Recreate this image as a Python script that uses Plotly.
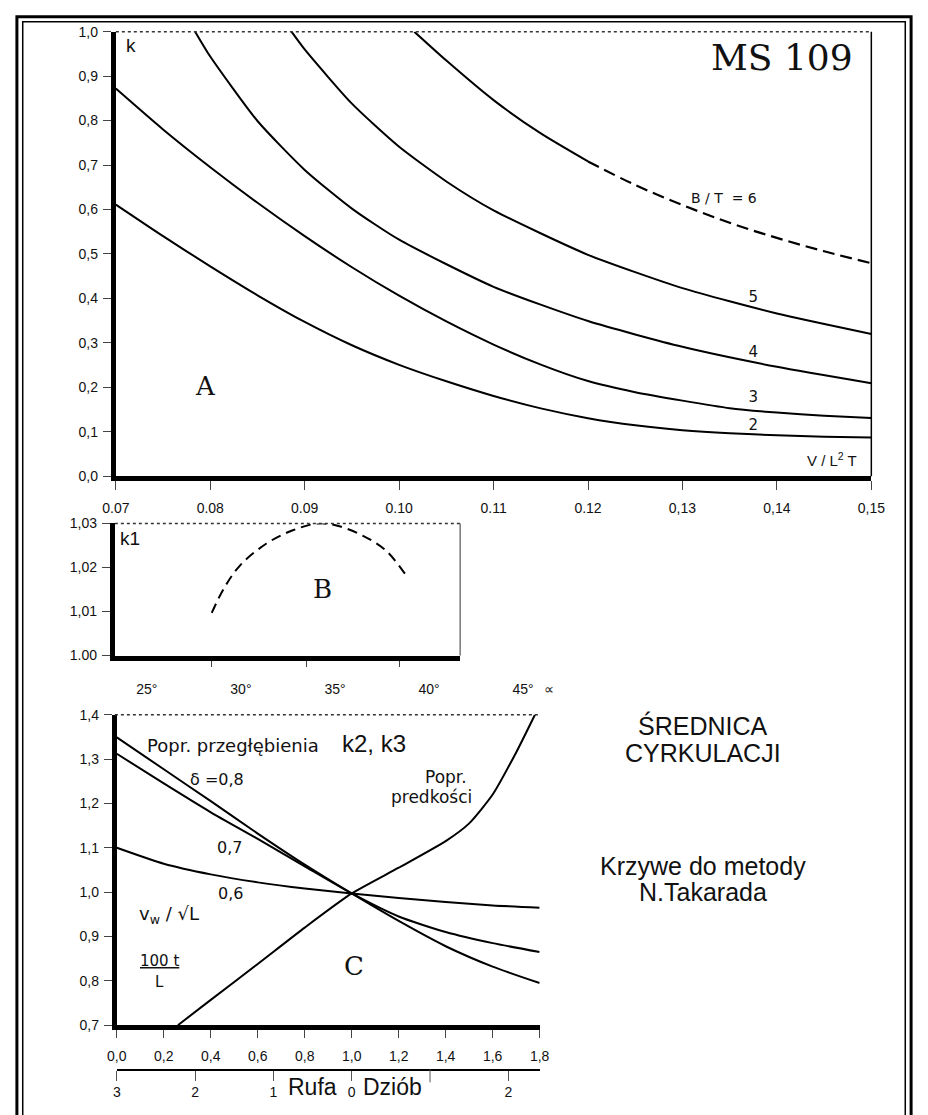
import plotly.graph_objects as go

W, H = 928, 1115

# ---------------- Panel A data ----------------
A_XTICKS = [0.07, 0.08, 0.09, 0.10, 0.11, 0.12, 0.13, 0.14, 0.15]
A_XTICKTEXT = ["0.07", "0.08", "0.09", "0.10", "0.11", "0.12", "0,13", "0,14", "0,15"]
A_YTICKS = [0.0, 0.1, 0.2, 0.3, 0.4, 0.5, 0.6, 0.7, 0.8, 0.9, 1.0]
A_YTICKTEXT = ["0,0", "0,1", "0,2", "0,3", "0,4", "0,5", "0,6", "0,7", "0,8", "0,9", "1,0"]

V_GRID = [0.070, 0.075, 0.080, 0.085, 0.090, 0.095, 0.100, 0.105, 0.110,
          0.115, 0.120, 0.125, 0.130, 0.135, 0.140, 0.145, 0.150]
BT2_K = [0.611, 0.540, 0.472, 0.407, 0.347, 0.2945, 0.2505, 0.2135, 0.1805,
         0.1525, 0.1305, 0.1145, 0.1035, 0.0965, 0.092, 0.089, 0.087]
BT3_K = [0.872, 0.780, 0.695, 0.615, 0.540, 0.470, 0.406, 0.348, 0.296,
         0.251, 0.214, 0.189, 0.170, 0.153, 0.143, 0.136, 0.131]
BT4_V = [0.0784, 0.080, 0.085, 0.090, 0.095, 0.100, 0.110, 0.120, 0.130, 0.140, 0.150]
BT4_K = [1.000, 0.944, 0.799, 0.689, 0.602, 0.532, 0.426, 0.349, 0.291, 0.246, 0.209]
BT5_V = [0.0886, 0.090, 0.095, 0.100, 0.105, 0.110, 0.120, 0.130, 0.140, 0.150]
BT5_K = [1.000, 0.960, 0.838, 0.741, 0.663, 0.598, 0.498, 0.423, 0.366, 0.320]
BT6_V_SOLID = [0.1016, 0.105, 0.110, 0.115, 0.120]
BT6_K_SOLID = [1.000, 0.935, 0.846, 0.771, 0.708]
BT6_V_DASH = [0.120, 0.125, 0.130, 0.135, 0.140, 0.145, 0.150]
BT6_K_DASH = [0.708, 0.655, 0.610, 0.570, 0.536, 0.506, 0.479]
BT_LABELS = ["2", "3", "4", "5"]
BT_LABEL_V = [0.1375, 0.1375, 0.1375, 0.1375]
BT_LABEL_K = [0.112, 0.175, 0.277, 0.400]

# ---------------- Panel B data ----------------
B_DEG = [28.45, 29.1, 29.96, 31.34, 32.72, 34.09, 35.12, 36.49, 37.7, 38.73]
B_K1 = [1.0097, 1.0153, 1.0205, 1.0254, 1.0284, 1.0300, 1.0295, 1.0272, 1.0239, 1.0185]
B_YTICKS = [1.00, 1.01, 1.02, 1.03]
B_YTICKTEXT = ["1.00", "1,01", "1,02", "1,03"]
B_XMARKS = [28.45, 33.5, 38.45]
ALPHA_TICKS = [25, 30, 35, 40, 45, 46.4]
ALPHA_TICKTEXT = ["25°", "30°", "35°", "40°", "45°", "∝"]

# ---------------- Panel C data ----------------
C_X = [0.0, 0.2, 0.4, 0.6, 0.8, 1.0, 1.2, 1.4, 1.6, 1.8]
C_XTICKTEXT = ["0,0", "0,2", "0,4", "0,6", "0,8", "1,0", "1,2", "1,4", "1,6", "1,8"]
C_YTICKS = [0.7, 0.8, 0.9, 1.0, 1.1, 1.2, 1.3, 1.4]
C_YTICKTEXT = ["0,7", "0,8", "0,9", "1,0", "1,1", "1,2", "1,3", "1,4"]
D08 = [1.349, 1.277, 1.205, 1.132, 1.062, 0.997, 0.935, 0.878, 0.832, 0.795]
D07 = [1.312, 1.245, 1.180, 1.120, 1.058, 0.997, 0.945, 0.910, 0.885, 0.865]
D06 = [1.100, 1.064, 1.040, 1.022, 1.008, 0.997, 0.987, 0.978, 0.970, 0.965]
VEL_X = [0.26, 0.4, 0.6, 0.8, 1.0, 1.2, 1.4, 1.5, 1.6, 1.7, 1.78]
VEL_Y = [0.70, 0.757, 0.838, 0.92, 0.997, 1.055, 1.115, 1.155, 1.22, 1.315, 1.40]
TRIM_TICKS = [-3, -2, -1, 0, 2]
TRIM_TICKTEXT = ["3", "2", "1", "0", "2"]


def fx(p):
    return p / W


def fy(p):
    return 1 - p / H


SANS = "Liberation Sans"
WIDE = "DejaVu Sans"
SERIF = "DejaVu Serif"
TICKFONT = dict(family=SANS, size=14, color="#111")

fig = go.Figure()

line = dict(color="black", width=2, shape="spline", smoothing=0.6)
for v, k in [(V_GRID, BT2_K), (V_GRID, BT3_K), (BT4_V, BT4_K), (BT5_V, BT5_K), (BT6_V_SOLID, BT6_K_SOLID)]:
    fig.add_trace(go.Scatter(x=v, y=k, mode="lines", line=line, xaxis="x", yaxis="y",
                             hoverinfo="skip", showlegend=False))
fig.add_trace(go.Scatter(x=BT6_V_DASH, y=BT6_K_DASH, mode="lines",
                         line=dict(color="black", width=2.2, dash="12px,6px", shape="spline"),
                         xaxis="x", yaxis="y", showlegend=False))
fig.add_trace(go.Scatter(x=BT_LABEL_V, y=BT_LABEL_K, mode="text", text=BT_LABELS,
                         textfont=dict(family=WIDE, size=15, color="#111"),
                         xaxis="x", yaxis="y", showlegend=False))

# Panel B
fig.add_trace(go.Scatter(x=B_DEG, y=B_K1, mode="lines",
                         line=dict(color="black", width=2, dash="10px,6px", shape="spline"),
                         xaxis="x2", yaxis="y2", showlegend=False))
fig.add_trace(go.Scatter(x=ALPHA_TICKS, y=[0.5] * len(ALPHA_TICKS), mode="markers",
                         marker=dict(opacity=0), xaxis="x4", yaxis="y4",
                         hoverinfo="skip", showlegend=False))

# Panel C
for yv in (D08, D07, D06):
    fig.add_trace(go.Scatter(x=C_X, y=yv, mode="lines", line=line, xaxis="x3", yaxis="y3",
                             hoverinfo="skip", showlegend=False))
fig.add_trace(go.Scatter(x=VEL_X, y=VEL_Y, mode="lines", line=line, xaxis="x3", yaxis="y3",
                         hoverinfo="skip", showlegend=False))
fig.add_trace(go.Scatter(x=TRIM_TICKS, y=[0.75] * len(TRIM_TICKS), mode="markers",
                         marker=dict(opacity=0), xaxis="x5", yaxis="y3",
                         hoverinfo="skip", showlegend=False))

thick = dict(showline=True, linecolor="black", linewidth=5, showgrid=False, zeroline=False,
             ticks="outside", tickcolor="#444", tickwidth=1, tickfont=TICKFONT)

fig.update_layout(
    width=W, height=H, margin=dict(l=0, r=0, t=0, b=0),
    paper_bgcolor="white", plot_bgcolor="white", showlegend=False,
    xaxis=dict(domain=[fx(105), fx(884)], range=[0.07, 0.15], anchor="y",
               tickvals=A_XTICKS, ticktext=A_XTICKTEXT, ticklen=9, ticklabelstandoff=6, **thick),
    yaxis=dict(domain=[fy(475), fy(24)], range=[0, 1.0], anchor="x",
               tickvals=A_YTICKS, ticktext=A_YTICKTEXT, ticklen=8, ticklabelstandoff=2, **thick),
    xaxis2=dict(domain=[fx(104), fx(460)], range=[23.30, 41.65], anchor="y2",
                tickvals=B_XMARKS, showticklabels=False, ticklen=6, **thick),
    yaxis2=dict(domain=[fy(657), fy(523)], range=[1.0, 1.03], anchor="x2",
                tickvals=B_YTICKS, ticktext=B_YTICKTEXT, ticklen=8, ticklabelstandoff=2, **thick),
    xaxis4=dict(domain=[fx(104), fx(580)], range=[23.30, 47.84], anchor="y4",
                tickvals=ALPHA_TICKS, ticktext=ALPHA_TICKTEXT, showline=False, showgrid=False,
                zeroline=False, ticks="", tickfont=TICKFONT),
    yaxis4=dict(domain=[fy(681), fy(677)], range=[0, 1], anchor="x4", visible=False),
    xaxis3=dict(domain=[fx(106), fx(542)], range=[0, 1.8], anchor="y3",
                tickvals=C_X, ticktext=C_XTICKTEXT, ticklen=8, ticklabelstandoff=6, **thick),
    yaxis3=dict(domain=[fy(1032), fy(717)], range=[0.7, 1.4], anchor="x3",
                tickvals=C_YTICKS, ticktext=C_YTICKTEXT, ticklen=8, ticklabelstandoff=2, **thick),
    xaxis5=dict(overlaying="x3", anchor="free", position=fy(1077), side="bottom",
                range=[-3, 2.4], tickvals=TRIM_TICKS, ticktext=TRIM_TICKTEXT,
                showline=True, linecolor="black", linewidth=2, showgrid=False, zeroline=False,
                ticks="outside", ticklen=10, tickwidth=1, tickcolor="#555", tickfont=TICKFONT),
)

shapes = []
# page double border
shapes.append(dict(type="rect", xref="paper", yref="paper", x0=fx(3), x1=fx(925), y0=fy(1130), y1=fy(9),
                   line=dict(color="black", width=3)))
shapes.append(dict(type="rect", xref="paper", yref="paper", x0=fx(9), x1=fx(919), y0=fy(1130), y1=fy(14),
                   line=dict(color="black", width=1.5)))
# panel frames
for x0, x1, y in [(105, 884, 24), (104, 460, 523), (104, 542, 717)]:
    shapes.append(dict(type="line", xref="paper", yref="paper", x0=fx(x0), x1=fx(x1), y0=fy(y), y1=fy(y),
                       line=dict(color="#333", width=1.5, dash="dot")))
shapes.append(dict(type="line", xref="paper", yref="paper", x0=fx(884), x1=fx(884), y0=fy(24), y1=fy(475),
                   line=dict(color="black", width=1.5)))
shapes.append(dict(type="line", xref="paper", yref="paper", x0=fx(460), x1=fx(460), y0=fy(523), y1=fy(657),
                   line=dict(color="#333", width=1)))
# unlabelled mark on the trim scale (bow side, 1)
shapes.append(dict(type="line", xref="x5", yref="paper", x0=1, x1=1, y0=fy(1077), y1=fy(1090),
                   line=dict(color="#555", width=1)))
fig.update_layout(shapes=shapes)


def ann(text, x, y, size, family=SANS, xanchor="center", color="#111"):
    fig.add_annotation(text=text, x=fx(x), y=fy(y), xref="paper", yref="paper", showarrow=False,
                       xanchor=xanchor, yanchor="middle", font=dict(family=family, size=size, color=color))


ann("MS 109", 792, 50, 36, SERIF)
ann("k", 121, 38, 19)
ann("A", 197, 383, 26, SERIF)
ann("B / T  = 6", 732, 193, 14, WIDE)
ann("V / L<sup>2</sup> T", 843, 458, 15)
ann("k1", 120, 538, 19)
ann("B", 318, 589, 26, SERIF)
ann("Popr. przegłębienia", 226, 748, 18, WIDE)
ann("k2, k3", 371, 746, 24)
ann("δ =0,8", 209, 783, 16, WIDE)
ann("0,7", 222, 852, 16, WIDE)
ann("0,6", 223, 898, 16, WIDE)
ann("Popr.", 445, 780, 17, WIDE)
ann("predkości", 431, 800, 17, WIDE)
ann("v<sub>w</sub> / √L", 160, 920, 18, WIDE)
ann("<u>100 t</u>", 150, 967, 15, WIDE)
ann("L", 150, 988, 15, WIDE)
ann("C", 351, 972, 26, SERIF)
ann("Rufa", 308, 1095, 23)
ann("Dziób", 390, 1095, 23)
ann("ŚREDNICA", 710, 728, 25)
ann("CYRKULACJI", 710, 756, 25)
ann("Krzywe do metody", 710, 870, 25)
ann("N.Takarada", 710, 897, 25)

fig.write_html("out.html", config={"displayModeBar": False},
               post_script="document.body.style.margin='0';")
